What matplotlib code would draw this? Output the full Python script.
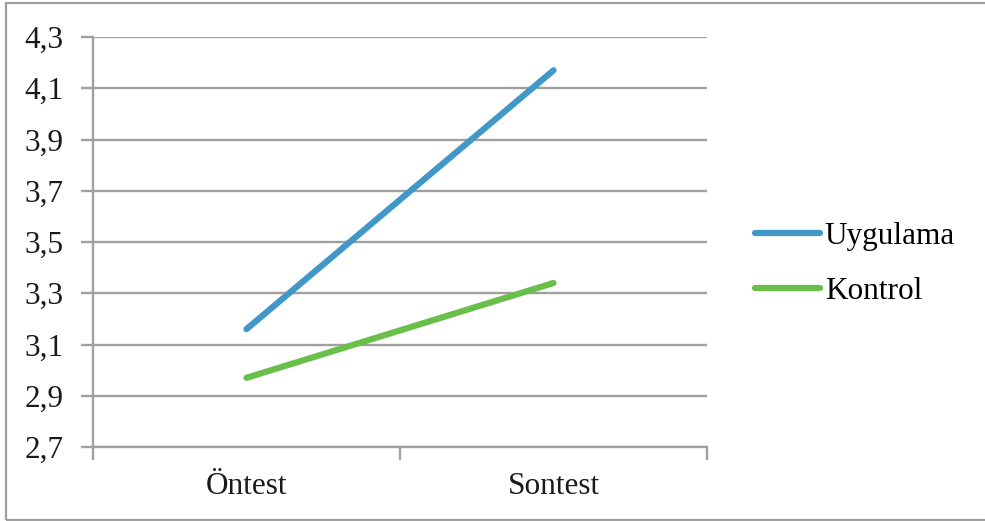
import matplotlib
matplotlib.use('Agg')
from matplotlib import pyplot as plt
from matplotlib.patches import Rectangle
from matplotlib.ticker import FuncFormatter

plt.rcParams['font.family'] = ['Liberation Serif', 'DejaVu Serif']

# ölçüm zamanları ve grup ortalamaları
olcumler = ['Öntest', 'Sontest']
uygulama = [3.16, 4.17]
kontrol = [2.97, 3.34]
y_ticks = [2.7, 2.9, 3.1, 3.3, 3.5, 3.7, 3.9, 4.1, 4.3]

gri = '#A0A0A0'
fs = 22.5

fig = plt.figure(figsize=(9.85, 5.21), dpi=100)
ax = fig.add_axes([93/985, 74/521, 614/985, 410/521])

x = list(range(len(olcumler)))
ax.plot(x, uygulama, color='#4198C8', lw=4.5, solid_capstyle='round', label='Uygulama')
ax.plot(x, kontrol, color='#6ABF4B', lw=4.5, solid_capstyle='round', label='Kontrol')

ax.set_xlim(-0.5, len(olcumler) - 0.5)
ax.set_ylim(y_ticks[0], y_ticks[-1])
ax.set_yticks(y_ticks)
ax.yaxis.set_major_formatter(FuncFormatter(lambda v, p: f'{v:.1f}'.replace('.', ',')))
ax.grid(axis='y', color=gri, lw=1.7)
ax.set_axisbelow(True)

# kategori etiketleri ortada, çizgi işaretleri sınırlarda
ax.set_xticks(x)
ax.set_xticklabels(olcumler)
ax.set_xticks([-0.5, 0.5, 1.5], minor=True)
ax.tick_params(axis='x', which='major', length=0, pad=18, labelsize=fs, colors='#1a1a1a')
ax.tick_params(axis='x', which='minor', length=9, width=1.7, color=gri)
ax.tick_params(axis='y', length=9, width=1.7, color=gri, pad=12, labelsize=fs, labelcolor='#1a1a1a')

for s in ['top', 'right']:
    ax.spines[s].set_visible(False)
for s in ['left', 'bottom']:
    ax.spines[s].set_color(gri)
    ax.spines[s].set_linewidth(1.7)

fig.legend(loc='center left', bbox_to_anchor=(755/985, 1 - 264/521), frameon=False,
           fontsize=fs, handlelength=2.07, handletextpad=0.16, labelspacing=0.82,
           borderpad=0, borderaxespad=0)

# dış çerçeve
fig.patches.append(Rectangle((6/985, 1/521), 1.2, 517/521, transform=fig.transFigure,
                             fill=False, edgecolor=gri, lw=1.6))

fig.savefig('out.png', dpi=100)
